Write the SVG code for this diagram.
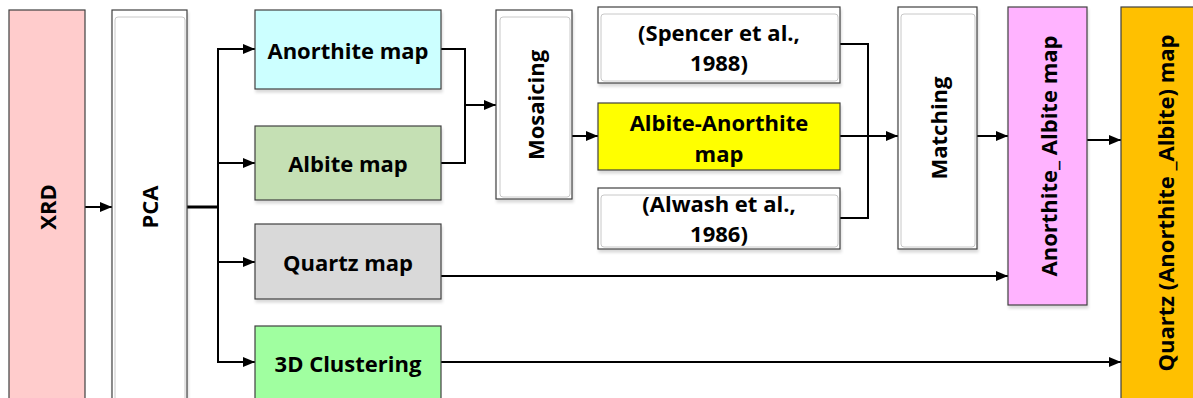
<svg xmlns="http://www.w3.org/2000/svg" width="1193" height="398" viewBox="0 0 1193 398">
<style>
.box{stroke:#404040;stroke-width:1.2}
.inner{fill:none;stroke:#c8c8c8;stroke-width:1}
.t{font-family:"Open Sans","Liberation Sans",sans-serif;font-weight:bold;font-size:22px;fill:#000;text-anchor:middle;dominant-baseline:central}
.c{fill:none;stroke:#000;stroke-width:2}
</style>
<defs>
<marker id="ah" viewBox="0 0 12 10" refX="12" refY="5" markerWidth="12" markerHeight="10" markerUnits="userSpaceOnUse" orient="auto">
<path d="M0,0 L12,5 L0,10 Z" fill="#000"/>
</marker>
<filter id="sh" x="-5%" y="-5%" width="110%" height="115%">
<feGaussianBlur in="SourceAlpha" stdDeviation="1.5"/>
<feOffset dx="1" dy="3" result="b"/>
<feComponentTransfer><feFuncA type="linear" slope="0.15"/></feComponentTransfer>
<feMerge><feMergeNode/><feMergeNode in="SourceGraphic"/></feMerge>
</filter>
</defs>
<rect width="1193" height="398" fill="#fff"/>
<g id="connectors">
<line class="c" x1="85" y1="207" x2="112" y2="207" marker-end="url(#ah)"/>
<line x1="187" y1="207" x2="218" y2="207" stroke="#000" stroke-width="3"/>
<path class="c" d="M218,49 V362"/>
<line class="c" x1="217" y1="49" x2="255" y2="49" marker-end="url(#ah)"/>
<line class="c" x1="217" y1="163" x2="255" y2="163" marker-end="url(#ah)"/>
<line class="c" x1="217" y1="262" x2="255" y2="262" marker-end="url(#ah)"/>
<line class="c" x1="217" y1="362" x2="255" y2="362" marker-end="url(#ah)"/>
<path class="c" d="M441,49 H465 V163 H441"/>
<line class="c" x1="465" y1="105" x2="496" y2="105" marker-end="url(#ah)"/>
<line class="c" x1="572" y1="136" x2="598" y2="136" marker-end="url(#ah)"/>
<path class="c" d="M840,44 H868 V218 H840"/>
<line class="c" x1="840" y1="136" x2="898" y2="136" marker-end="url(#ah)"/>
<line class="c" x1="977" y1="136" x2="1008" y2="136" marker-end="url(#ah)"/>
<line class="c" x1="1087" y1="140" x2="1121" y2="140" marker-end="url(#ah)"/>
<line class="c" x1="441" y1="276" x2="1008" y2="276" marker-end="url(#ah)"/>
<line class="c" x1="441" y1="362" x2="1121" y2="362" marker-end="url(#ah)"/>
</g>
<g id="xrd">
<rect class="box" x="9" y="10" width="76" height="400" fill="#ffcccc"/>
<text class="t" transform="translate(47,207) rotate(-90)">XRD</text>
</g>
<g id="pca">
<rect class="box" x="112" y="10" width="75" height="400" fill="#fff" filter="url(#sh)"/>
<rect class="inner" x="115" y="17" width="70" height="390" rx="3"/>
<text class="t" transform="translate(149,207) rotate(-90)">PCA</text>
</g>
<g id="anorthite">
<rect class="box" x="255" y="10" width="186" height="79" fill="#ccffff" filter="url(#sh)"/>
<text class="t" x="348" y="50">Anorthite map</text>
</g>
<g id="albite">
<rect class="box" x="255" y="126" width="186" height="74" fill="#c5e0b4" filter="url(#sh)"/>
<text class="t" x="348" y="163">Albite map</text>
</g>
<g id="quartz">
<rect class="box" x="255" y="224" width="186" height="75" fill="#d9d9d9" filter="url(#sh)"/>
<text class="t" x="348" y="262">Quartz map</text>
</g>
<g id="clustering">
<rect class="box" x="255" y="326" width="186" height="80" fill="#a0ffa0"/>
<text class="t" x="348" y="363">3D Clustering</text>
</g>
<g id="mosaicing">
<rect class="box" x="496" y="10" width="76" height="189" fill="#fff" filter="url(#sh)"/>
<rect class="inner" x="500" y="17" width="70" height="180" rx="3"/>
<text class="t" transform="translate(535,105) rotate(-90)">Mosaicing</text>
</g>
<g id="spencer">
<rect class="box" x="598" y="7" width="242" height="76" fill="#fff" filter="url(#sh)"/>
<rect class="inner" x="601" y="14" width="237" height="67" rx="3"/>
<text class="t" x="719" y="32">(Spencer et al.,</text>
<text class="t" x="719" y="62">1988)</text>
</g>
<g id="albite-anorthite">
<rect class="box" x="598" y="103" width="242" height="67" fill="#ffff00" filter="url(#sh)"/>
<text class="t" x="719" y="122">Albite-Anorthite</text>
<text class="t" x="719" y="153">map</text>
</g>
<g id="alwash">
<rect class="box" x="598" y="188" width="242" height="61" fill="#fff" filter="url(#sh)"/>
<rect class="inner" x="601" y="195" width="237" height="52" rx="3"/>
<text class="t" x="719" y="203">(Alwash et al.,</text>
<text class="t" x="719" y="233">1986)</text>
</g>
<g id="matching">
<rect class="box" x="898" y="7" width="79" height="242" fill="#fff" filter="url(#sh)"/>
<rect class="inner" x="901" y="14" width="74" height="233" rx="3"/>
<text class="t" transform="translate(938,128) rotate(-90)">Matching</text>
</g>
<g id="anorthite-albite">
<rect class="box" x="1008" y="7" width="79" height="298" fill="#ffb3ff" filter="url(#sh)"/>
<text class="t" transform="translate(1048,156) rotate(-90)">Anorthite_ Albite map</text>
</g>
<g id="quartz-final">
<rect class="box" x="1121" y="7" width="80" height="400" fill="#ffc000"/>
<text class="t" transform="translate(1165,203) rotate(-90)">Quartz (Anorthite _Albite) map</text>
</g>
</svg>
